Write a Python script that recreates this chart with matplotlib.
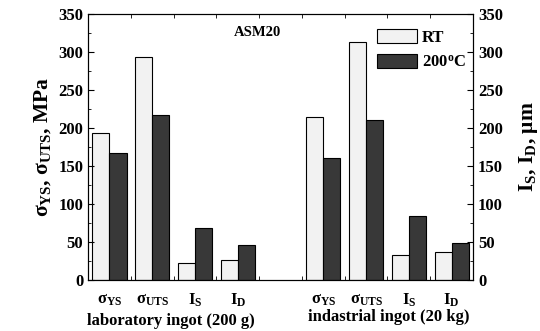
import numpy as np
import matplotlib
matplotlib.use('Agg')
import matplotlib.pyplot as plt
from matplotlib.ticker import MultipleLocator

plt.rcParams['font.family'] = 'Liberation Serif'
plt.rcParams['font.weight'] = 'bold'
plt.rcParams['axes.labelweight'] = 'bold'
plt.rcParams['mathtext.fontset'] = 'custom'
plt.rcParams['mathtext.rm'] = 'Liberation Serif:bold'
plt.rcParams['mathtext.it'] = 'Liberation Serif:bold'
plt.rcParams['mathtext.bf'] = 'Liberation Serif:bold'

# data
cat_labels = ['σ$_{\\rm YS}$', 'σ$_{\\rm UTS}$', 'I$_{\\rm S}$', 'I$_{\\rm D}$'] * 2
cat_pos = [1, 2, 3, 4, 6, 7, 8, 9]
rt_vals = [194, 293, 22, 26, 215, 313, 33, 37]
hot_vals = [167, 217, 69, 46, 160, 210, 84, 49]
groups = ['laboratory ingot (200 g)', 'indastrial ingot (20 kg)']

fig = plt.figure(figsize=(5.4, 3.31), dpi=100)
ax = fig.add_axes([0.163, 0.154, 0.713, 0.804])

x = np.array(cat_pos)
w = 0.4
ax.bar(x - w/2, rt_vals, w, color='#f2f2f2', edgecolor='black', linewidth=0.8, label='RT')
ax.bar(x + w/2, hot_vals, w, color='#383838', edgecolor='black', linewidth=0.8, label='200$^{\\rm o}$C')

ax.set_xlim(0.5, 9.5)
ax.set_ylim(0, 350)
ax.set_xticks(cat_pos)
ax.set_xticklabels(cat_labels, fontsize=12)
ax.set_xticks(np.arange(1.5, 9.5, 1), minor=True)
ax.yaxis.set_major_locator(MultipleLocator(50))
ax.yaxis.set_minor_locator(MultipleLocator(25))
ax.tick_params(axis='x', which='major', length=0, pad=8)
ax.tick_params(axis='x', which='minor', direction='in', length=3, top=True)
ax.tick_params(axis='y', which='major', direction='in', length=4, labelsize=12)
ax.tick_params(axis='y', which='minor', direction='in', length=2)
ax.set_ylabel('σ$_{\\rm YS}$, σ$_{\\rm UTS}$, MPa', fontsize=15.5, labelpad=4)

ax2 = ax.twinx()
ax2.set_ylim(0, 350)
ax2.yaxis.set_major_locator(MultipleLocator(50))
ax2.yaxis.set_minor_locator(MultipleLocator(25))
ax2.tick_params(axis='y', which='major', direction='in', length=4, labelsize=12)
ax2.tick_params(axis='y', which='minor', direction='in', length=2)
ax2.set_ylabel('I$_{\\rm S}$, I$_{\\rm D}$, μm', fontsize=15.5, rotation=90, labelpad=10)

fig.text(171 / 540, 1 - 321 / 331, groups[0], ha='center', va='center', fontsize=12, fontweight='bold')
fig.text(389 / 540, 1 - 317 / 331, groups[1], ha='center', va='center', fontsize=12, fontweight='bold')
ax.text(0.44, 0.93, 'ASM20', transform=ax.transAxes, ha='center', va='center', fontsize=10.5, fontweight='bold')

leg = ax.legend(loc='upper right', bbox_to_anchor=(1.02, 1.0), frameon=False, fontsize=12,
                handlelength=2.4, handleheight=0.9, labelspacing=0.5, handletextpad=0.3)
leg.set_zorder(5)

fig.savefig('out.png', dpi=100)
